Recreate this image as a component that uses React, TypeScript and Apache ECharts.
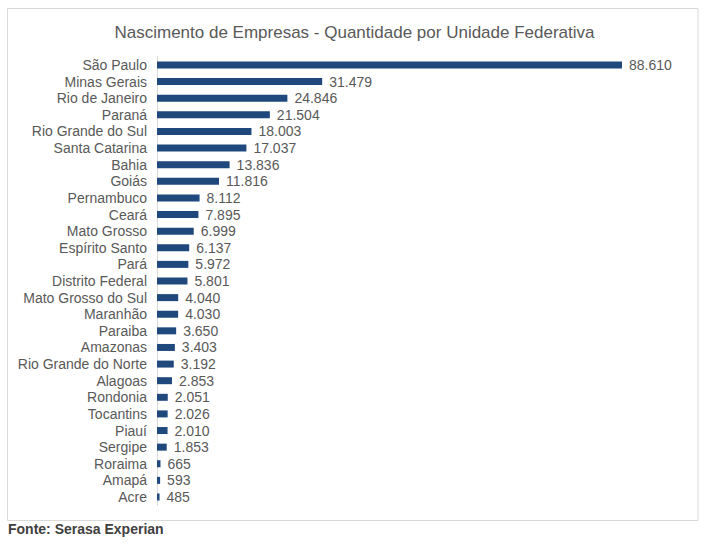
import React, { useEffect, useRef } from "react";
import * as echarts from "echarts";

const categories = [
  "São Paulo", "Minas Gerais", "Rio de Janeiro", "Paraná", "Rio Grande do Sul",
  "Santa Catarina", "Bahia", "Goiás", "Pernambuco", "Ceará", "Mato Grosso",
  "Espírito Santo", "Pará", "Distrito Federal", "Mato Grosso do Sul", "Maranhão",
  "Paraiba", "Amazonas", "Rio Grande do Norte", "Alagoas", "Rondonia",
  "Tocantins", "Piauí", "Sergipe", "Roraima", "Amapá", "Acre",
];
const values = [
  88610, 31479, 24846, 21504, 18003, 17037, 13836, 11816, 8112, 7895, 6999,
  6137, 5972, 5801, 4040, 4030, 3650, 3403, 3192, 2853, 2051, 2026, 2010,
  1853, 665, 593, 485,
];
const title = "Nascimento de Empresas - Quantidade por Unidade Federativa";
const source = "Fonte: Serasa Experian";

const fmt = (v: number) => String(v).replace(/\B(?=(\d{3})+(?!\d))/g, ".");

export default function App() {
  const ref = useRef<HTMLDivElement>(null);
  useEffect(() => {
    if (!ref.current) return;
    const chart = echarts.init(ref.current, undefined, { renderer: "svg" });
    const font = "Arial, 'Liberation Sans', sans-serif";
    chart.setOption({
      animation: false,
      backgroundColor: "#ffffff",
      textStyle: { fontFamily: font },
      title: {
        text: title,
        left: "center",
        top: 19,
        textStyle: { fontFamily: font, fontSize: 17, fontWeight: "normal", color: "#595959" },
      },
      graphic: [
        {
          type: "rect",
          shape: { x: 7.5, y: 8.5, width: 690.5, height: 512 },
          style: { fill: "none", stroke: "#d9d9d9", lineWidth: 1 },
          z: -1,
        },
        {
          type: "text",
          left: 8,
          top: 522,
          style: { text: source, fontFamily: font, fontSize: 14, fontWeight: "bold", fill: "#404040" },
        },
      ],
      grid: { left: 157, top: 56.7, width: 465, height: 448.6, containLabel: false },
      xAxis: { type: "value", min: 0, max: 88610, show: false },
      yAxis: {
        type: "category",
        data: categories,
        inverse: true,
        axisLine: { show: true, lineStyle: { color: "#d9d9d9" } },
        axisTick: { show: false },
        axisLabel: { interval: 0, fontFamily: font, fontSize: 14, color: "#595959", margin: 10 },
      },
      series: [
        {
          type: "bar",
          data: values,
          barWidth: 7,
          itemStyle: { color: "#1F497D" },
          label: {
            show: true,
            position: "right",
            distance: 7,
            fontFamily: font,
            fontSize: 14,
            color: "#595959",
            formatter: (p: any) => fmt(p.value),
          },
        },
      ],
    });
    return () => chart.dispose();
  }, []);
  return (
    <div
      ref={ref}
      style={{ position: "fixed", left: 0, top: 0, width: 709, height: 544 }}
    />
  );
}
